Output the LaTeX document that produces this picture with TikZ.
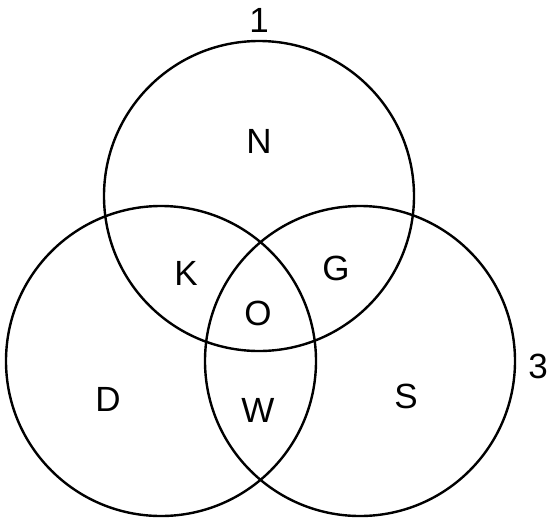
\documentclass[tikz,border=0pt]{standalone}
\usepackage{fontspec}
\setmainfont{Liberation Sans}
\begin{document}
\begin{tikzpicture}[x=1pt,y=-1pt,
  ring/.style={draw=black,line width=2.4pt},
  lbl/.style={font=\fontsize{35}{38}\selectfont,inner sep=0pt}]
\useasboundingbox (0,0) rectangle (550,520);
\draw[ring] (259,196) circle[radius=155];
\draw[ring] (161,361) circle[radius=155];
\draw[ring] (360,361) circle[radius=155];
\node[lbl] (one) at (259,20) {1};
\node[lbl] (three) at (538,366) {3};
\node[lbl] (N) at (259,141) {N};
\node[lbl] (K) at (186,273) {K};
\node[lbl] (G) at (336,268) {G};
\node[lbl] (O) at (258,313) {O};
\node[lbl] (D) at (108,399) {D};
\node[lbl] (W) at (258,410) {W};
\node[lbl] (S) at (406,396) {S};
\end{tikzpicture}
\end{document}
